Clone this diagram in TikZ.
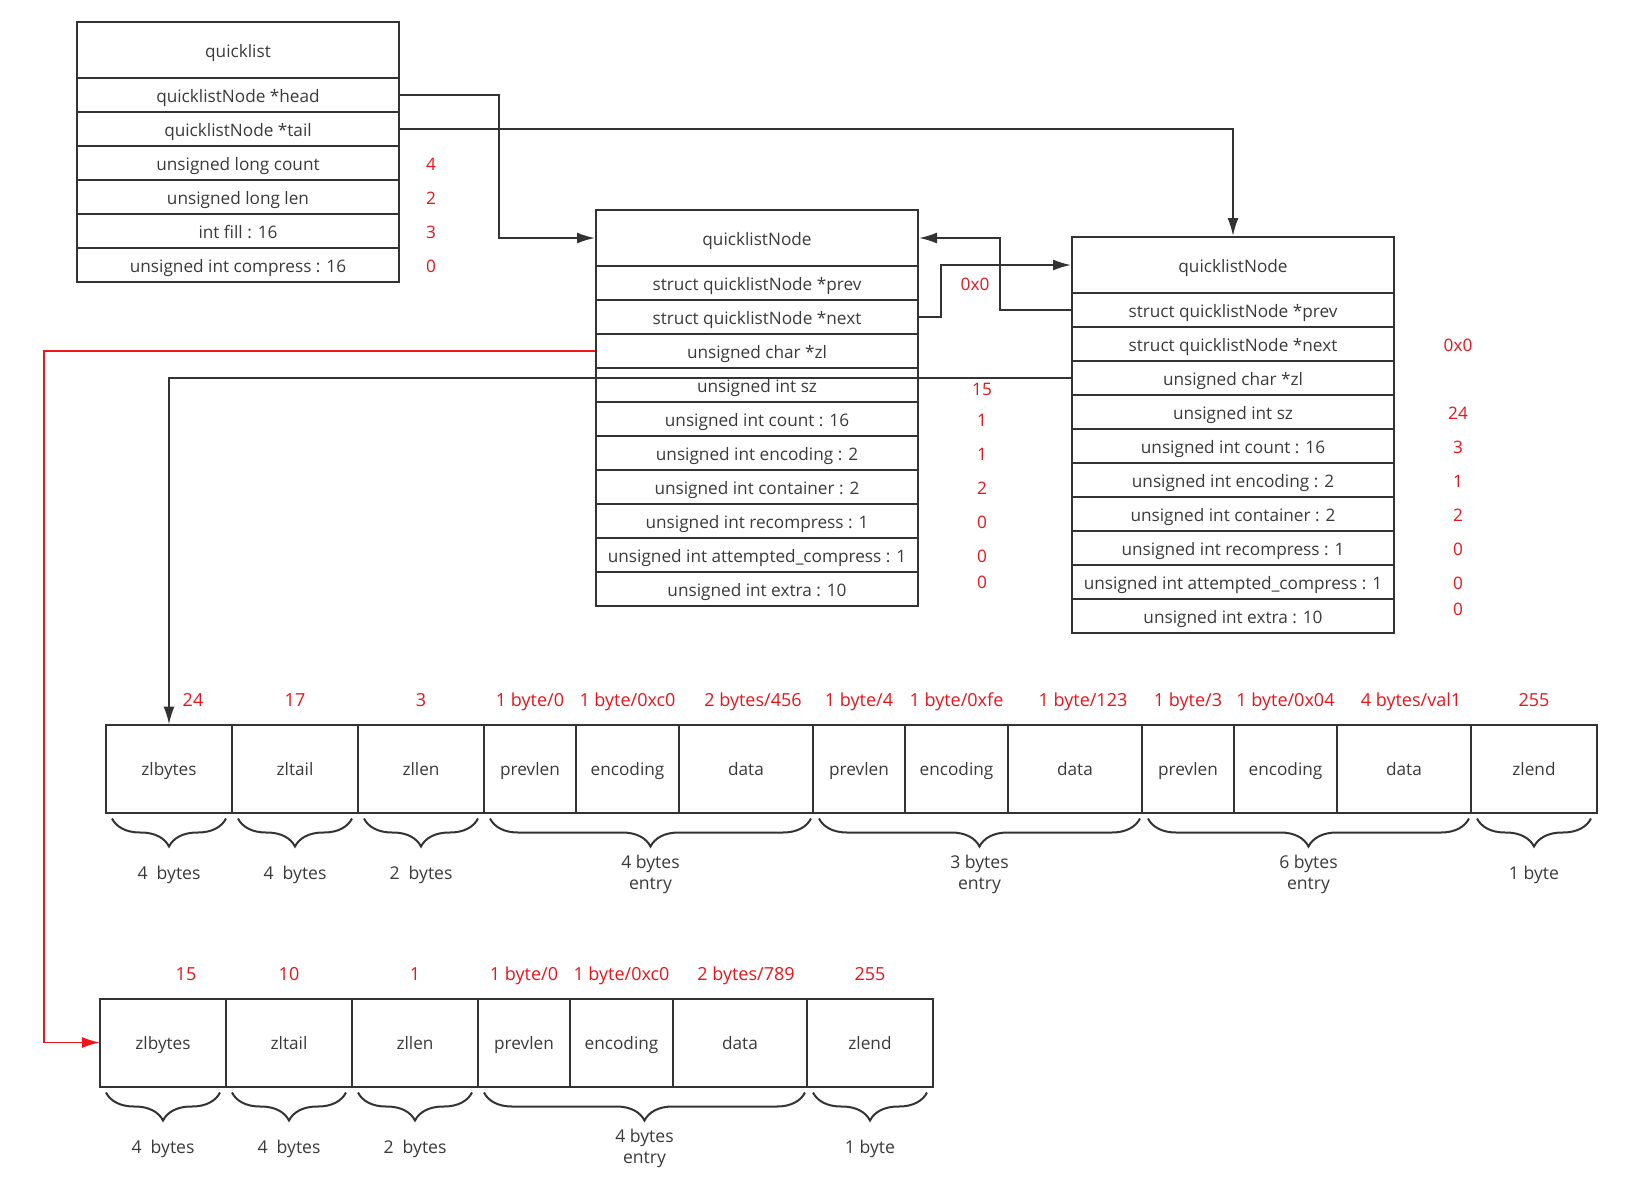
\documentclass[tikz,border=0pt]{standalone}
\usepackage{fontspec}
\setmainfont{Open Sans}
\usetikzlibrary{positioning,arrows.meta,decorations.pathreplacing}
\definecolor{linegray}{HTML}{333333}
\definecolor{textgray}{HTML}{3A3A3A}
\definecolor{valred}{HTML}{E8141B}
\definecolor{linkred}{HTML}{F0141B}
\tikzstyle{field} = [draw=linegray, line width=1pt, minimum width=161pt, minimum height=17pt, inner sep=0pt, text=textgray, text height=7.6pt, text depth=0.4pt]
\tikzstyle{header} = [field, minimum height=28pt]
\tikzstyle{cell} = [draw=linegray, line width=1pt, minimum height=44pt, inner sep=0pt, outer sep=0pt, text=textgray, text height=7.6pt, text depth=0.4pt]
\tikzstyle{zlcell} = [cell, minimum width=63pt]
\tikzstyle{prevcell} = [cell, minimum width=46pt]
\tikzstyle{enccell} = [cell, minimum width=51.5pt]
\tikzstyle{datacell} = [cell, minimum width=67pt]
\tikzstyle{val} = [text=valred, inner sep=1pt, text height=7.6pt, text depth=0.4pt]
\tikzstyle{topval} = [val, font=\fontsize{9}{11}\selectfont]
\tikzstyle{conn} = [draw=linegray, line width=0.9pt, ->]
\tikzstyle{bytebrace} = [draw=linegray, line width=1pt, decorate, decoration={brace, mirror, amplitude=14pt}]
\tikzstyle{bytelabel} = [midway, yshift=-28pt, text=textgray, align=center, font=\fontsize{8.8}{10.5}\selectfont]

\begin{document}
\begin{tikzpicture}[x=0.5pt, y=-0.5pt, node distance=17pt, >={Latex[length=9pt,width=5.5pt]}, font=\fontsize{8.6}{10.5}\selectfont]
    \useasboundingbox (0,0) rectangle (1630,1184);

    % quicklist
    \node[header] (ql) at (238,50) {quicklist};
    \node[field, node distance=22.5pt, below of=ql] (qhead) {quicklistNode *head};
    \node[field, below of=qhead] (qtail) {quicklistNode *tail};
    \node[field, below of=qtail] (qcount) {unsigned long count};
    \node[field, below of=qcount] (qlen) {unsigned long len};
    \node[field, below of=qlen] (qfill) {int fill : 16};
    \node[field, below of=qfill] (qcompress) {unsigned int compress : 16};
    \node[val, node distance=96.5pt, right of=qcount] (vqcount) {4};
    \node[val, node distance=96.5pt, right of=qlen] (vqlen) {2};
    \node[val, node distance=96.5pt, right of=qfill] (vqfill) {3};
    \node[val, node distance=96.5pt, right of=qcompress] (vqcompress) {0};

    % first quicklistNode
    \node[header] (n1hdr) at (757,238) {quicklistNode};
    \node[field, node distance=22.5pt, below of=n1hdr] (n1prev) {struct quicklistNode *prev};
    \node[field, below of=n1prev] (n1next) {struct quicklistNode *next};
    \node[field, below of=n1next] (n1zl) {unsigned char *zl};
    \node[field, below of=n1zl] (n1sz) {unsigned int sz};
    \node[field, below of=n1sz] (n1count) {unsigned int count : 16};
    \node[field, below of=n1count] (n1enc) {unsigned int encoding : 2};
    \node[field, below of=n1enc] (n1cont) {unsigned int container : 2};
    \node[field, below of=n1cont] (n1recomp) {unsigned int recompress : 1};
    \node[field, below of=n1recomp] (n1attempt) {unsigned int attempted\_compress : 1};
    \node[field, below of=n1attempt] (n1extra) {unsigned int extra : 10};
    \node[val, node distance=109pt, right of=n1prev] (vn1prev) {0x0};
    \node[val, node distance=112.5pt, right of=n1sz, yshift=-1.5pt] (vn1sz) {15};
    \node[val, node distance=112.5pt, right of=n1count] (vn1count) {1};
    \node[val, node distance=112.5pt, right of=n1enc] (vn1enc) {1};
    \node[val, node distance=112.5pt, right of=n1cont] (vn1cont) {2};
    \node[val, node distance=112.5pt, right of=n1recomp] (vn1recomp) {0};
    \node[val, node distance=112.5pt, right of=n1attempt] (vn1attempt) {0};
    \node[val, node distance=112.5pt, right of=n1extra, yshift=4pt] (vn1extra) {0};

    % second quicklistNode
    \node[header] (n2hdr) at (1233,265) {quicklistNode};
    \node[field, node distance=22.5pt, below of=n2hdr] (n2prev) {struct quicklistNode *prev};
    \node[field, below of=n2prev] (n2next) {struct quicklistNode *next};
    \node[field, below of=n2next] (n2zl) {unsigned char *zl};
    \node[field, below of=n2zl] (n2sz) {unsigned int sz};
    \node[field, below of=n2sz] (n2count) {unsigned int count : 16};
    \node[field, below of=n2count] (n2enc) {unsigned int encoding : 2};
    \node[field, below of=n2enc] (n2cont) {unsigned int container : 2};
    \node[field, below of=n2cont] (n2recomp) {unsigned int recompress : 1};
    \node[field, below of=n2recomp] (n2attempt) {unsigned int attempted\_compress : 1};
    \node[field, below of=n2attempt] (n2extra) {unsigned int extra : 10};
    \node[val, node distance=112.5pt, right of=n2next] (vn2next) {0x0};
    \node[val, node distance=112.5pt, right of=n2sz] (vn2sz) {24};
    \node[val, node distance=112.5pt, right of=n2count] (vn2count) {3};
    \node[val, node distance=112.5pt, right of=n2enc] (vn2enc) {1};
    \node[val, node distance=112.5pt, right of=n2cont] (vn2cont) {2};
    \node[val, node distance=112.5pt, right of=n2recomp] (vn2recomp) {0};
    \node[val, node distance=112.5pt, right of=n2attempt] (vn2attempt) {0};
    \node[val, node distance=112.5pt, right of=n2extra, yshift=4pt] (vn2extra) {0};

    % ziplist of the second node
    \node[zlcell] (z1bytes) at (169,768.5) {zlbytes};
    \node[zlcell, right=0pt of z1bytes] (z1tail) {zltail};
    \node[zlcell, right=0pt of z1tail] (z1len) {zllen};
    \node[prevcell, right=0pt of z1len] (z1prev1) {prevlen};
    \node[enccell, right=0pt of z1prev1] (z1enc1) {encoding};
    \node[datacell, right=0pt of z1enc1] (z1data1) {data};
    \node[prevcell, right=0pt of z1data1] (z1prev2) {prevlen};
    \node[enccell, right=0pt of z1prev2] (z1enc2) {encoding};
    \node[datacell, right=0pt of z1enc2] (z1data2) {data};
    \node[prevcell, right=0pt of z1data2] (z1prev3) {prevlen};
    \node[enccell, right=0pt of z1prev3] (z1enc3) {encoding};
    \node[datacell, right=0pt of z1enc3] (z1data3) {data};
    \node[zlcell, right=0pt of z1data3] (z1end) {zlend};
    \node[topval, above=7.5pt of z1bytes, xshift=12pt] (vz1bytes) {24};
    \node[topval, above=7.5pt of z1tail] (vz1tail) {17};
    \node[topval, above=7.5pt of z1len] (vz1len) {3};
    \node[topval, above=7.5pt of z1prev1] (vz1prev1) {1 byte/0};
    \node[topval, above=7.5pt of z1enc1] (vz1enc1) {1 byte/0xc0};
    \node[topval, above=7.5pt of z1data1, xshift=3.5pt] (vz1data1) {2 bytes/456};
    \node[topval, above=7.5pt of z1prev2] (vz1prev2) {1 byte/4};
    \node[topval, above=7.5pt of z1enc2] (vz1enc2) {1 byte/0xfe};
    \node[topval, above=7.5pt of z1data2, xshift=4pt] (vz1data2) {1 byte/123};
    \node[topval, above=7.5pt of z1prev3] (vz1prev3) {1 byte/3};
    \node[topval, above=7.5pt of z1enc3] (vz1enc3) {1 byte/0x04};
    \node[topval, above=7.5pt of z1data3, xshift=3.5pt] (vz1data3) {4 bytes/val1};
    \node[topval, above=7.5pt of z1end] (vz1end) {255};
    \draw[bytebrace] ([xshift=3pt,yshift=-3pt]z1bytes.south west) -- ([xshift=-3pt,yshift=-3pt]z1bytes.south east) node[bytelabel] (sz1bytes) {4~~bytes};
    \draw[bytebrace] ([xshift=3pt,yshift=-3pt]z1tail.south west) -- ([xshift=-3pt,yshift=-3pt]z1tail.south east) node[bytelabel] (sz1tail) {4~~bytes};
    \draw[bytebrace] ([xshift=3pt,yshift=-3pt]z1len.south west) -- ([xshift=-3pt,yshift=-3pt]z1len.south east) node[bytelabel] (sz1len) {2~~bytes};
    \draw[bytebrace] ([xshift=3pt,yshift=-3pt]z1prev1.south west) -- ([xshift=-1pt,yshift=-3pt]z1data1.south east) node[bytelabel] (sz1entry1) {4 bytes\\entry};
    \draw[bytebrace] ([xshift=3pt,yshift=-3pt]z1prev2.south west) -- ([xshift=-1pt,yshift=-3pt]z1data2.south east) node[bytelabel] (sz1entry2) {3 bytes\\entry};
    \draw[bytebrace] ([xshift=3pt,yshift=-3pt]z1prev3.south west) -- ([xshift=-1pt,yshift=-3pt]z1data3.south east) node[bytelabel] (sz1entry3) {6 bytes\\entry};
    \draw[bytebrace] ([xshift=3pt,yshift=-3pt]z1end.south west) -- ([xshift=-3pt,yshift=-3pt]z1end.south east) node[bytelabel] (sz1end) {1 byte};

    % ziplist of the first node
    \node[zlcell] (z2bytes) at (163,1042.5) {zlbytes};
    \node[zlcell, right=0pt of z2bytes] (z2tail) {zltail};
    \node[zlcell, right=0pt of z2tail] (z2len) {zllen};
    \node[prevcell, right=0pt of z2len] (z2prev1) {prevlen};
    \node[enccell, right=0pt of z2prev1] (z2enc1) {encoding};
    \node[datacell, right=0pt of z2enc1] (z2data1) {data};
    \node[zlcell, right=0pt of z2data1] (z2end) {zlend};
    \node[topval, above=7.5pt of z2bytes, xshift=11.5pt] (vz2bytes) {15};
    \node[topval, above=7.5pt of z2tail] (vz2tail) {10};
    \node[topval, above=7.5pt of z2len] (vz2len) {1};
    \node[topval, above=7.5pt of z2prev1] (vz2prev1) {1 byte/0};
    \node[topval, above=7.5pt of z2enc1] (vz2enc1) {1 byte/0xc0};
    \node[topval, above=7.5pt of z2data1, xshift=3pt] (vz2data1) {2 bytes/789};
    \node[topval, above=7.5pt of z2end] (vz2end) {255};
    \draw[bytebrace] ([xshift=3pt,yshift=-3pt]z2bytes.south west) -- ([xshift=-3pt,yshift=-3pt]z2bytes.south east) node[bytelabel] (sz2bytes) {4~~bytes};
    \draw[bytebrace] ([xshift=3pt,yshift=-3pt]z2tail.south west) -- ([xshift=-3pt,yshift=-3pt]z2tail.south east) node[bytelabel] (sz2tail) {4~~bytes};
    \draw[bytebrace] ([xshift=3pt,yshift=-3pt]z2len.south west) -- ([xshift=-3pt,yshift=-3pt]z2len.south east) node[bytelabel] (sz2len) {2~~bytes};
    \draw[bytebrace] ([xshift=3pt,yshift=-3pt]z2prev1.south west) -- ([xshift=-1pt,yshift=-3pt]z2data1.south east) node[bytelabel] (sz2entry1) {4 bytes\\entry};
    \draw[bytebrace] ([xshift=3pt,yshift=-3pt]z2end.south west) -- ([xshift=-3pt,yshift=-3pt]z2end.south east) node[bytelabel] (sz2end) {1 byte};

    % pointers
    \draw[conn] (qhead.east) -- ++(99,0) |- (n1hdr.west);
    \draw[conn] (qtail.east) -| (n2hdr.north);
    \draw[conn] (n1next.east) -- ++(22,0) |- (n2hdr.west);
    \draw[conn] (n2prev.west) -- ++(-71,0) |- (n1hdr.east);
    \draw[conn, draw=linkred] (n1zl.west) -- ++(-551,0) |- (z2bytes.west);
    \draw[conn] (n2zl.west) -| (z1bytes.north);
\end{tikzpicture}
\end{document}
